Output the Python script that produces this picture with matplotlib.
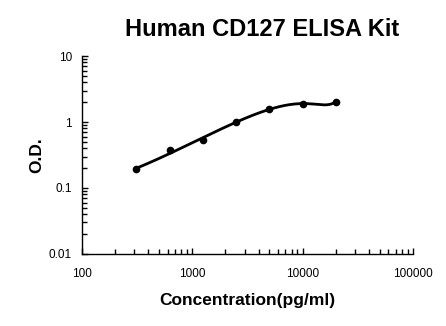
import numpy as np
import matplotlib
matplotlib.use("Agg")
import matplotlib.pyplot as plt
from matplotlib.ticker import FixedLocator, FixedFormatter, LogLocator, NullFormatter

conc = [312.5, 625, 1250, 2500, 5000, 10000, 20000]
od = [0.196, 0.372, 0.533, 0.99, 1.57, 1.90, 2.03]

x_ticks = [100, 1000, 10000, 100000]
x_labels = ["100", "1000", "10000", "100000"]
y_ticks = [0.01, 0.1, 1, 10]
y_labels = ["0.01", "0.1", "1", "10"]

plt.rcParams['font.family'] = ['Liberation Sans', 'DejaVu Sans']

fig = plt.figure(figsize=(4.46, 3.26), dpi=100)
ax = fig.add_axes([0.183, 0.221, 0.743, 0.607])

# cubic trend line fitted to the standards
coef = np.polyfit(conc, od, 3)
xs = np.linspace(conc[0], conc[-1], 2000)
ax.plot(xs, np.polyval(coef, xs), color="black", linewidth=2)
ax.plot(conc, od, "o", color="black", markersize=4.5)

ax.set_xscale("log")
ax.set_yscale("log")
ax.set_xlim(100, 100000)
ax.set_ylim(0.01, 10)

ax.xaxis.set_major_locator(FixedLocator(x_ticks))
ax.xaxis.set_major_formatter(FixedFormatter(x_labels))
ax.yaxis.set_major_locator(FixedLocator(y_ticks))
ax.yaxis.set_major_formatter(FixedFormatter(y_labels))
ax.xaxis.set_minor_locator(LogLocator(base=10, subs=np.arange(2, 10)))
ax.yaxis.set_minor_locator(LogLocator(base=10, subs=np.arange(2, 10)))
ax.xaxis.set_minor_formatter(NullFormatter())
ax.yaxis.set_minor_formatter(NullFormatter())

ax.tick_params(which="both", direction="in", width=1, labelsize=8.5, colors="black")
ax.tick_params(which="major", length=4)
ax.tick_params(which="minor", length=3.5)
ax.tick_params(axis="x", pad=10)
ax.tick_params(axis="y", pad=7)

for s in ["top", "right"]:
    ax.spines[s].set_visible(False)
for s in ["left", "bottom"]:
    ax.spines[s].set_linewidth(1)
    ax.spines[s].set_color("black")

fig.text(247.5 / 446, 1 - 301 / 326, "Concentration(pg/ml)", fontsize=12.5,
         fontweight="bold", ha="center", va="center")
fig.text(37 / 446, 1 - 155 / 326, "O.D.", fontsize=12.5, fontweight="bold",
         ha="center", va="center", rotation=90)
fig.text(262 / 446, 1 - 30 / 326, "Human CD127 ELISA Kit", fontsize=17,
         fontweight="bold", ha="center", va="center")

fig.savefig("out.png", dpi=100)
